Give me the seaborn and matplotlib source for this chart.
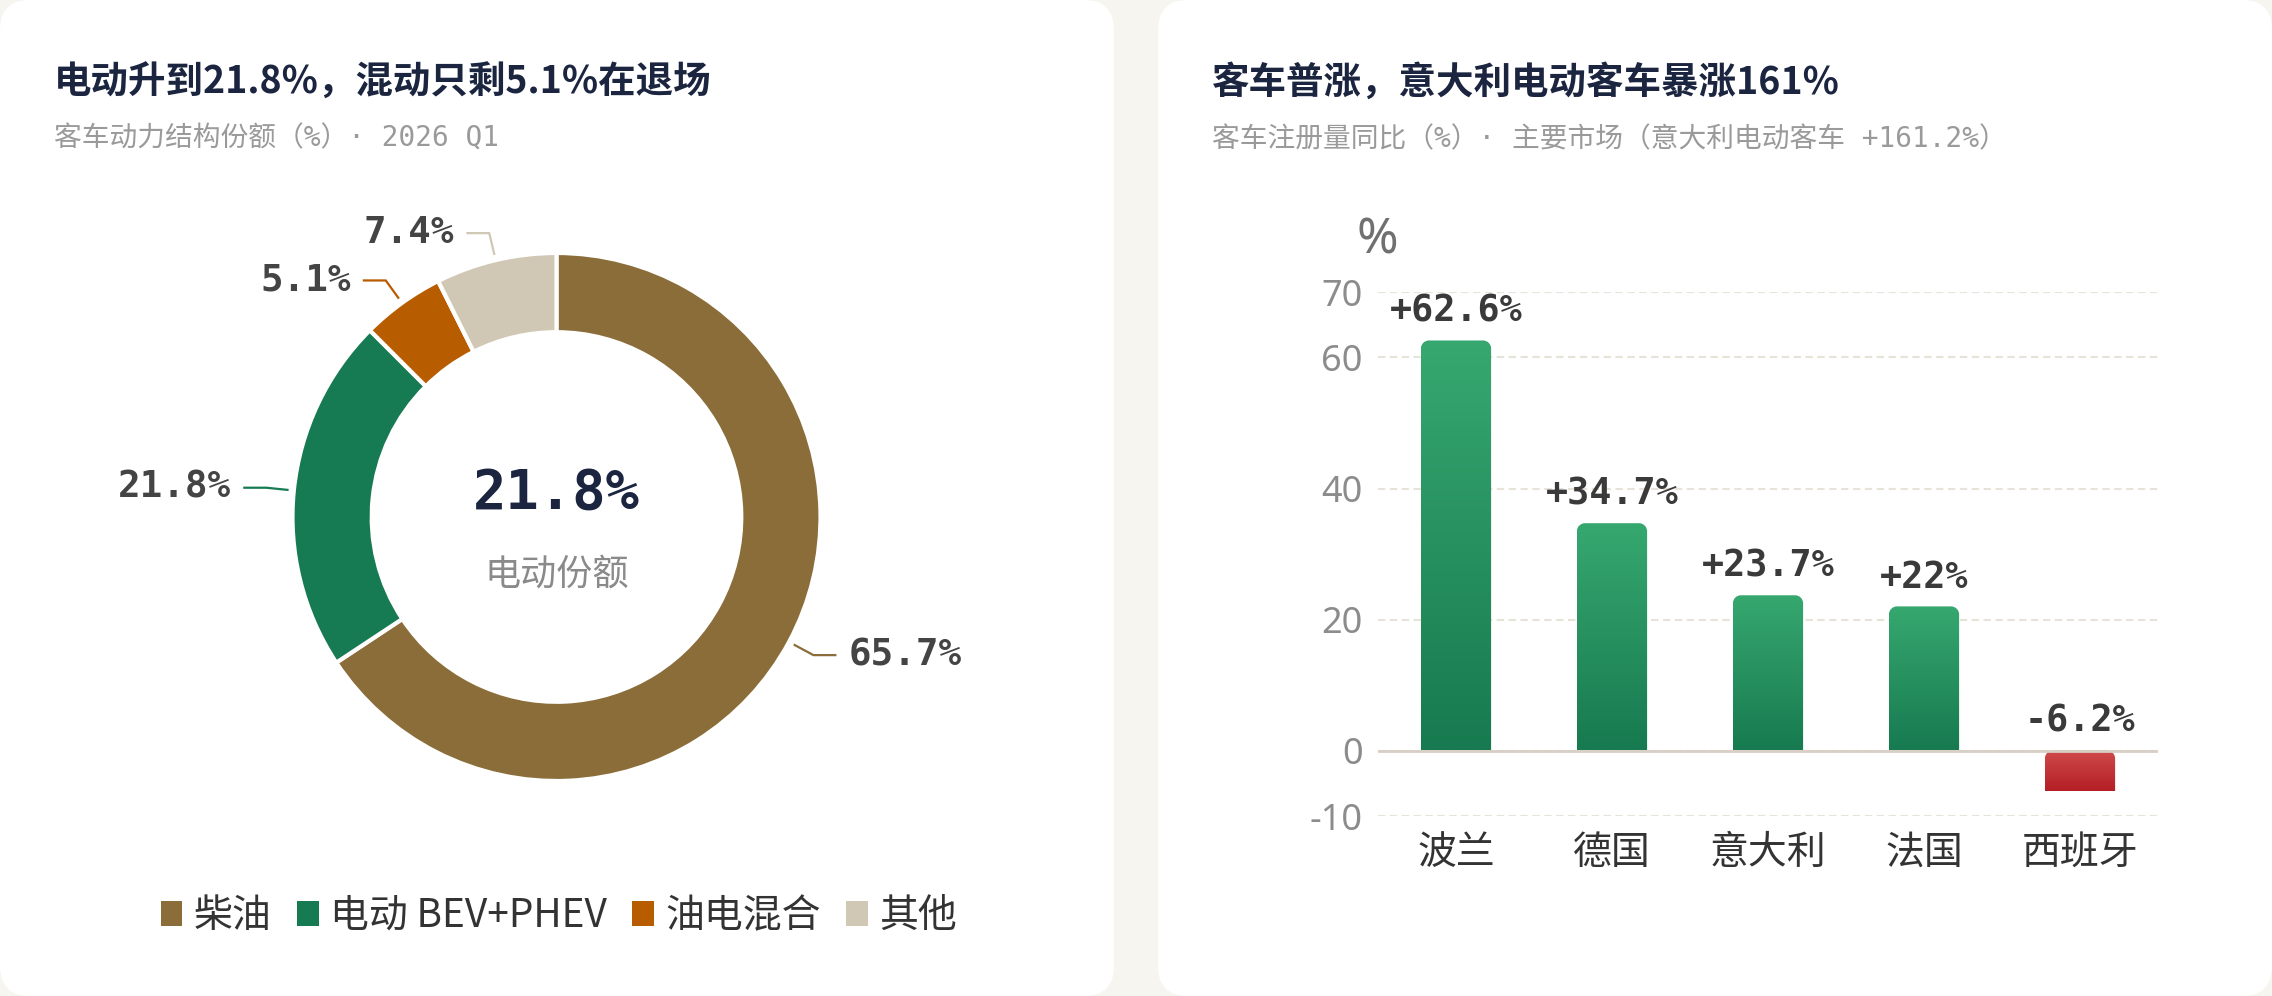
import numpy as np
import pandas as pd
import matplotlib
matplotlib.use("Agg")
import matplotlib.pyplot as plt
import seaborn as sns
from matplotlib.patches import FancyBboxPatch, PathPatch, Patch
from matplotlib.path import Path
from matplotlib.colors import LinearSegmentedColormap

# ---------------- data ----------------
title_left = "电动升到21.8%，混动只剩5.1%在退场"
subtitle_left = "客车动力结构份额（%）· 2026 Q1"
power_types = ["柴油", "电动 BEV+PHEV", "油电混合", "其他"]
power_share = [65.7, 21.8, 5.1, 7.4]
power_colors = ["#8B6D3A", "#167A52", "#B85C00", "#D1C7B5"]
center_value = "21.8%"
center_label = "电动份额"

title_right = "客车普涨，意大利电动客车暴涨161%"
subtitle_right = "客车注册量同比（%）· 主要市场（意大利电动客车 +161.2%）"
markets = ["波兰", "德国", "意大利", "法国", "西班牙"]
yoy = [62.6, 34.7, 23.7, 22.0, -6.2]
y_ticks = [-10, 0, 20, 40, 60, 70]
y_unit = "%"

# ---------------- style ----------------
sns.set_theme(style="white")
plt.rcParams['font.family'] = ['Noto Sans CJK SC', 'DejaVu Sans']
MONO = ['DejaVu Sans Mono', 'Noto Sans CJK SC']
NAVY = "#1B2540"

W, H = 2272, 996
fig = plt.figure(figsize=(W / 100, H / 100), dpi=100, facecolor="#F7F5F0")

# background / cards in pixel coordinates
bg = fig.add_axes([0, 0, 1, 1])
bg.set_xlim(0, W)
bg.set_ylim(H, 0)
bg.axis('off')
bg.set_zorder(0)
for x0, x1 in [(0, 1114), (1158, W)]:
    bg.add_patch(FancyBboxPatch((x0, 0), x1 - x0, H,
                                boxstyle="round,pad=0,rounding_size=30",
                                fc="white", ec="none"))

bg.text(54, 82, title_left, ha='left', va='center', fontsize=27,
        fontweight='bold', color=NAVY)
bg.text(54, 139, subtitle_left, ha='left', va='center', fontsize=20,
        color="#9A9A9A", family=MONO)
bg.text(1212, 82, title_right, ha='left', va='center', fontsize=27,
        fontweight='bold', color=NAVY)
bg.text(1212, 139, subtitle_right, ha='left', va='center', fontsize=20,
        color="#9A9A9A", family=MONO)

# ---------------- donut ----------------
R = 264.0
half = 420.0
cx, cy = 556.5, 517.0
ax1 = fig.add_axes([(cx - half) / W, 1 - (cy + half) / H, 2 * half / W, 2 * half / H])
ax1.set_zorder(1)
wedges, _ = ax1.pie(power_share, colors=power_colors, startangle=90,
                    counterclock=False, radius=1.0,
                    wedgeprops=dict(width=0.30, edgecolor='white', linewidth=3))
ax1.set_xlim(-half / R, half / R)
ax1.set_ylim(-half / R, half / R)
ax1.set_aspect('equal')
ax1.axis('off')

for w, val, col in zip(wedges, power_share, power_colors):
    th = np.deg2rad((w.theta1 + w.theta2) / 2)
    c, s = np.cos(th), np.sin(th)
    p0 = (1.02 * c, 1.02 * s)
    p1 = (1.105 * c, 1.105 * s)
    d = 1 if c >= 0 else -1
    p2 = (p1[0] + d * 23 / R, p1[1])
    ax1.plot([p0[0], p1[0], p2[0]], [p0[1], p1[1], p2[1]], color=col, lw=1.6,
             solid_capstyle='butt')
    ax1.text(p2[0] + d * 12 / R, p2[1], f"{val:.1f}%", ha='left' if d > 0 else 'right',
             va='center', fontsize=27, fontweight='bold', color="#444444", family=MONO)

ax1.text(0, (cy - 493) / R, center_value, ha='center', va='center', fontsize=40,
         fontweight='bold', color=NAVY, family=MONO)
ax1.text(0, (cy - 575) / R, center_label, ha='center', va='center', fontsize=26,
         color="#8A8A8A")

handles = [Patch(facecolor=c, edgecolor='none') for c in power_colors]
fig.legend(handles, power_types, loc='center', bbox_to_anchor=(559 / W, 1 - 916 / H),
           ncol=4, frameon=False, fontsize=28, handlelength=0.55, handleheight=0.6,
           handletextpad=0.3, columnspacing=0.65, labelcolor="#333333")

# ---------------- bars ----------------
ax2 = fig.add_axes([1378 / W, 1 - 816 / H, 780 / W, 524 / H])
ax2.set_zorder(1)
ax2.set_facecolor('none')
df = pd.DataFrame({"market": markets, "yoy": yoy})
sns.barplot(data=df, x="market", y="yoy", ax=ax2, width=0.45, color="#1F8A5A",
            saturation=1, errorbar=None)
ax2.set_xlim(-0.5, 4.5)
ax2.set_ylim(-10, 70)

green = LinearSegmentedColormap.from_list("g", ["#37A870", "#177A50"])
red = LinearSegmentedColormap.from_list("r", ["#D04A4C", "#B31F24"])
px_x = 780 / 5.0
px_y = 524 / 80.0
rx, ry = 8 / px_x, 8 / px_y
k = 0.5523
for p, v in zip(list(ax2.patches), yoy):
    x0 = p.get_x()
    x1 = x0 + p.get_width()
    y0 = p.get_y()
    y1 = y0 + p.get_height()
    lo, hi = min(y0, y1), max(y0, y1)
    p.set_visible(False)
    verts = [(x0, lo), (x0, hi - ry),
             (x0, hi - ry + k * ry), (x0 + rx - k * rx, hi), (x0 + rx, hi),
             (x1 - rx, hi),
             (x1 - rx + k * rx, hi), (x1, hi - ry + k * ry), (x1, hi - ry),
             (x1, lo), (x0, lo)]
    codes = [Path.MOVETO, Path.LINETO, Path.CURVE4, Path.CURVE4, Path.CURVE4,
             Path.LINETO, Path.CURVE4, Path.CURVE4, Path.CURVE4, Path.LINETO,
             Path.CLOSEPOLY]
    clip = PathPatch(Path(verts, codes), fc='none', ec='none', transform=ax2.transData)
    ax2.add_patch(clip)
    grad = np.linspace(0, 1, 256).reshape(-1, 1)
    im = ax2.imshow(grad, extent=[x0, x1, lo, hi], cmap=green if v >= 0 else red,
                    aspect='auto', zorder=2, interpolation='bilinear')
    im.set_clip_path(clip)
    ax2.annotate(f"{v:+g}%", xy=((x0 + x1) / 2, hi), xytext=(0, 21),
                 textcoords='offset points', ha='center', va='center', fontsize=26.5,
                 fontweight='bold', color="#3A3A3A", family=MONO, zorder=5)

ax2.set_xlim(-0.5, 4.5)
ax2.set_ylim(-10, 70)
ax2.set_yticks(y_ticks)
ax2.set_yticklabels([str(t) for t in y_ticks])
ax2.yaxis.grid(True, linestyle=(0, (3.5, 2.2)), color="#E8E3D8", lw=1.5)
ax2.xaxis.grid(False)
ax2.set_axisbelow(True)
ax2.axhline(0, color="#D8CFC4", lw=2, zorder=3)
for sp in ax2.spines.values():
    sp.set_visible(False)
ax2.set_xlabel("")
ax2.set_ylabel("")
ax2.tick_params(axis='y', length=0, pad=11, labelsize=26, labelcolor="#8C8C8C")
ax2.tick_params(axis='x', length=0, pad=12, labelsize=28, labelcolor="#333333")
for lbl in ax2.get_yticklabels():
    lbl.set_fontfamily(['Noto Sans', 'DejaVu Sans'])
bg.text(1377, 240, y_unit, ha='center', va='center', fontsize=36, color="#707070",
        family=['Noto Sans', 'DejaVu Sans'])

fig.savefig("out.png", dpi=100, facecolor=fig.get_facecolor())
